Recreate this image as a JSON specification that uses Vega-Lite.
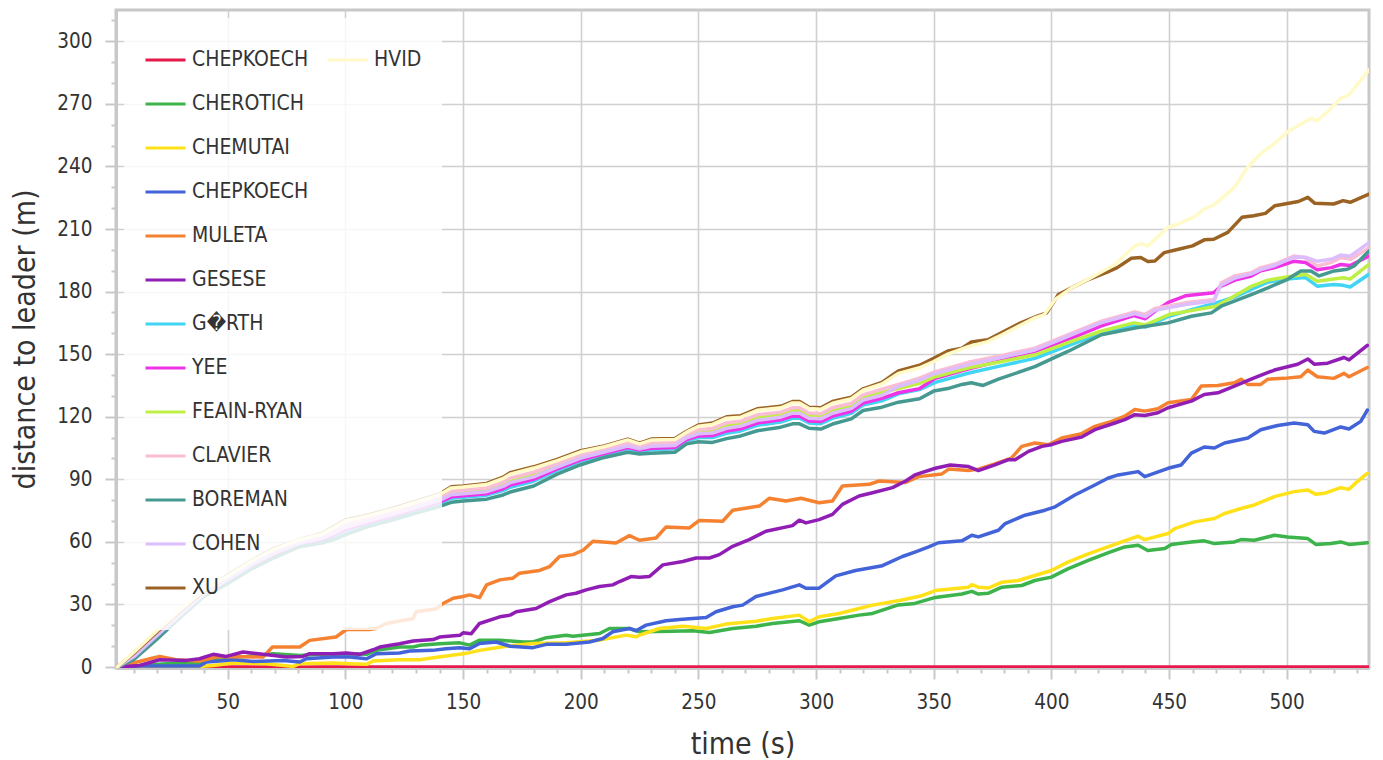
{
"$schema":"https://vega.github.io/schema/vega-lite/v6.json",
"width":1253,"height":658,
"autosize":{"type":"none"},
"padding":{"left":116,"top":10,"right":14,"bottom":92},
"background":"white",
"config":{
"view":{"stroke":"#c8c8c8","strokeWidth":3},
"axis":{"domainColor":"#c8c8c8","domainWidth":3,"tickColor":"#c8c8c8","tickWidth":2,"gridColor":"#d0d0d0","gridWidth":1.6,"labelFont":"DejaVu Sans Condensed, DejaVu Sans","labelFontSize":20.5,"labelColor":"#333333","titleFont":"DejaVu Sans Condensed, DejaVu Sans","titleFontSize":30,"titleFontWeight":"normal","titleColor":"#333333","labelPadding":13,"labelOverlap":false,"zindex":1}
},
"data":{"values":[
{"n":"CHEPKOECH","t":3,"d":0},{"n":"CHEPKOECH","t":100,"d":0},{"n":"CHEPKOECH","t":200,"d":0},{"n":"CHEPKOECH","t":300,"d":0},{"n":"CHEPKOECH","t":400,"d":0},{"n":"CHEPKOECH","t":500,"d":0},{"n":"CHEPKOECH","t":535,"d":0},
{"n":"CHEROTICH","t":3,"d":0},{"n":"CHEROTICH","t":12.6,"d":0.8},{"n":"CHEROTICH","t":24,"d":1.6},{"n":"CHEROTICH","t":32,"d":1.6},{"n":"CHEROTICH","t":38,"d":1.9},{"n":"CHEROTICH","t":43.8,"d":4},{"n":"CHEROTICH","t":52.3,"d":4.8},{"n":"CHEROTICH","t":58,"d":5.1},{"n":"CHEROTICH","t":69.3,"d":6.4},{"n":"CHEROTICH","t":80.6,"d":5.6},{"n":"CHEROTICH","t":89,"d":6.1},{"n":"CHEROTICH","t":100.4,"d":6.4},{"n":"CHEROTICH","t":109,"d":6.1},{"n":"CHEROTICH","t":113.2,"d":8},{"n":"CHEROTICH","t":123,"d":9.6},{"n":"CHEROTICH","t":128.8,"d":9.6},{"n":"CHEROTICH","t":131.6,"d":10.4},{"n":"CHEROTICH","t":140,"d":11.2},{"n":"CHEROTICH","t":148.6,"d":11.6},{"n":"CHEROTICH","t":152.8,"d":10.5},{"n":"CHEROTICH","t":157,"d":12.9},{"n":"CHEROTICH","t":165.6,"d":12.9},{"n":"CHEROTICH","t":175.5,"d":12},{"n":"CHEROTICH","t":179.7,"d":12},{"n":"CHEROTICH","t":185.4,"d":14.1},{"n":"CHEROTICH","t":193.8,"d":15.3},{"n":"CHEROTICH","t":196.7,"d":14.8},{"n":"CHEROTICH","t":208,"d":16.1},{"n":"CHEROTICH","t":212.2,"d":18.5},{"n":"CHEROTICH","t":220.7,"d":18.5},{"n":"CHEROTICH","t":225,"d":16.9},{"n":"CHEROTICH","t":239,"d":17.2},{"n":"CHEROTICH","t":247.6,"d":17.4},{"n":"CHEROTICH","t":254.7,"d":16.6},{"n":"CHEROTICH","t":264.6,"d":18.5},{"n":"CHEROTICH","t":274.5,"d":19.6},{"n":"CHEROTICH","t":281.5,"d":20.9},{"n":"CHEROTICH","t":292.9,"d":22.2},{"n":"CHEROTICH","t":297.1,"d":20.1},{"n":"CHEROTICH","t":301.3,"d":21.7},{"n":"CHEROTICH","t":309.8,"d":23.3},{"n":"CHEROTICH","t":318.3,"d":24.9},{"n":"CHEROTICH","t":324,"d":25.7},{"n":"CHEROTICH","t":335,"d":29.8},{"n":"CHEROTICH","t":342,"d":30.5},{"n":"CHEROTICH","t":350.7,"d":33.4},{"n":"CHEROTICH","t":362,"d":35},{"n":"CHEROTICH","t":366.2,"d":36.3},{"n":"CHEROTICH","t":369,"d":35},{"n":"CHEROTICH","t":373.3,"d":35.4},{"n":"CHEROTICH","t":379,"d":38.3},{"n":"CHEROTICH","t":387.4,"d":39.1},{"n":"CHEROTICH","t":393,"d":41.5},{"n":"CHEROTICH","t":400,"d":43.1},{"n":"CHEROTICH","t":407,"d":47.1},{"n":"CHEROTICH","t":415.7,"d":51.1},{"n":"CHEROTICH","t":424,"d":54.7},{"n":"CHEROTICH","t":431.2,"d":57.6},{"n":"CHEROTICH","t":436.9,"d":58.4},{"n":"CHEROTICH","t":441,"d":55.9},{"n":"CHEROTICH","t":448.2,"d":56.8},{"n":"CHEROTICH","t":451,"d":58.8},{"n":"CHEROTICH","t":459.5,"d":60},{"n":"CHEROTICH","t":465,"d":60.5},{"n":"CHEROTICH","t":469.3,"d":59.2},{"n":"CHEROTICH","t":477.8,"d":60},{"n":"CHEROTICH","t":480.6,"d":61.1},{"n":"CHEROTICH","t":486.3,"d":60.8},{"n":"CHEROTICH","t":494.8,"d":63.2},{"n":"CHEROTICH","t":500.4,"d":62.4},{"n":"CHEROTICH","t":509,"d":61.6},{"n":"CHEROTICH","t":512.4,"d":58.8},{"n":"CHEROTICH","t":518.8,"d":59.2},{"n":"CHEROTICH","t":523,"d":60},{"n":"CHEROTICH","t":526.5,"d":58.8},{"n":"CHEROTICH","t":534.3,"d":59.6},
{"n":"CHEMUTAI","t":3,"d":0},{"n":"CHEMUTAI","t":38,"d":0.3},{"n":"CHEMUTAI","t":43.8,"d":0.8},{"n":"CHEMUTAI","t":52.3,"d":1.9},{"n":"CHEMUTAI","t":66.4,"d":1.6},{"n":"CHEMUTAI","t":77.8,"d":0.3},{"n":"CHEMUTAI","t":80.6,"d":1.6},{"n":"CHEMUTAI","t":94.8,"d":1.9},{"n":"CHEMUTAI","t":101.8,"d":1.6},{"n":"CHEMUTAI","t":109,"d":1.3},{"n":"CHEMUTAI","t":111.8,"d":2.9},{"n":"CHEMUTAI","t":123,"d":3.5},{"n":"CHEMUTAI","t":131.6,"d":3.5},{"n":"CHEMUTAI","t":137.3,"d":4.5},{"n":"CHEMUTAI","t":148.6,"d":6.1},{"n":"CHEMUTAI","t":152.8,"d":6.9},{"n":"CHEMUTAI","t":157,"d":8},{"n":"CHEMUTAI","t":168.4,"d":10},{"n":"CHEMUTAI","t":179.7,"d":11.3},{"n":"CHEMUTAI","t":193.8,"d":11.6},{"n":"CHEMUTAI","t":208,"d":12.9},{"n":"CHEMUTAI","t":219.3,"d":15.3},{"n":"CHEMUTAI","t":223.5,"d":14.5},{"n":"CHEMUTAI","t":225,"d":15.3},{"n":"CHEMUTAI","t":233.5,"d":18.5},{"n":"CHEMUTAI","t":243.4,"d":19.6},{"n":"CHEMUTAI","t":253.3,"d":18.5},{"n":"CHEMUTAI","t":261.7,"d":20.6},{"n":"CHEMUTAI","t":274.5,"d":22},{"n":"CHEMUTAI","t":281.5,"d":23.3},{"n":"CHEMUTAI","t":292.9,"d":24.9},{"n":"CHEMUTAI","t":297.1,"d":21.7},{"n":"CHEMUTAI","t":301.3,"d":24.1},{"n":"CHEMUTAI","t":309.8,"d":25.7},{"n":"CHEMUTAI","t":318.3,"d":28.1},{"n":"CHEMUTAI","t":324,"d":29.7},{"n":"CHEMUTAI","t":336,"d":32},{"n":"CHEMUTAI","t":345,"d":34.2},{"n":"CHEMUTAI","t":350.7,"d":36.7},{"n":"CHEMUTAI","t":364.8,"d":38.3},{"n":"CHEMUTAI","t":366.2,"d":39.5},{"n":"CHEMUTAI","t":369,"d":38.3},{"n":"CHEMUTAI","t":373.3,"d":37.9},{"n":"CHEMUTAI","t":379,"d":40.7},{"n":"CHEMUTAI","t":386,"d":41.5},{"n":"CHEMUTAI","t":393,"d":43.9},{"n":"CHEMUTAI","t":400,"d":46.3},{"n":"CHEMUTAI","t":407,"d":50.3},{"n":"CHEMUTAI","t":415.7,"d":54.3},{"n":"CHEMUTAI","t":424,"d":57.6},{"n":"CHEMUTAI","t":432.6,"d":61.1},{"n":"CHEMUTAI","t":436.9,"d":62.7},{"n":"CHEMUTAI","t":439.7,"d":61.1},{"n":"CHEMUTAI","t":449.6,"d":64},{"n":"CHEMUTAI","t":452.4,"d":66.4},{"n":"CHEMUTAI","t":460.9,"d":69.6},{"n":"CHEMUTAI","t":469.3,"d":71.2},{"n":"CHEMUTAI","t":473.6,"d":73.6},{"n":"CHEMUTAI","t":480.6,"d":76},{"n":"CHEMUTAI","t":486.3,"d":77.7},{"n":"CHEMUTAI","t":494.8,"d":81.7},{"n":"CHEMUTAI","t":503.2,"d":84.1},{"n":"CHEMUTAI","t":509,"d":84.9},{"n":"CHEMUTAI","t":512.4,"d":82.8},{"n":"CHEMUTAI","t":516,"d":83.3},{"n":"CHEMUTAI","t":523,"d":86},{"n":"CHEMUTAI","t":526.5,"d":85.2},{"n":"CHEMUTAI","t":530,"d":88.9},{"n":"CHEMUTAI","t":534.3,"d":92.9},
{"n":"CHEPKOECH 2","t":3,"d":0},{"n":"CHEPKOECH 2","t":12.6,"d":0.5},{"n":"CHEPKOECH 2","t":24,"d":0.5},{"n":"CHEPKOECH 2","t":38,"d":0.5},{"n":"CHEPKOECH 2","t":41,"d":2.4},{"n":"CHEPKOECH 2","t":46.6,"d":2.9},{"n":"CHEPKOECH 2","t":52.3,"d":3.5},{"n":"CHEPKOECH 2","t":60.8,"d":2.7},{"n":"CHEPKOECH 2","t":73.5,"d":3.2},{"n":"CHEPKOECH 2","t":80.6,"d":2.4},{"n":"CHEPKOECH 2","t":83.4,"d":4},{"n":"CHEPKOECH 2","t":94.8,"d":4.8},{"n":"CHEPKOECH 2","t":101.8,"d":4.8},{"n":"CHEPKOECH 2","t":109,"d":4},{"n":"CHEPKOECH 2","t":113.2,"d":6.4},{"n":"CHEPKOECH 2","t":123,"d":6.7},{"n":"CHEPKOECH 2","t":127.3,"d":7.7},{"n":"CHEPKOECH 2","t":137,"d":8},{"n":"CHEPKOECH 2","t":142.7,"d":8.8},{"n":"CHEPKOECH 2","t":148.6,"d":9.3},{"n":"CHEPKOECH 2","t":152.8,"d":8.8},{"n":"CHEPKOECH 2","t":157,"d":11.3},{"n":"CHEPKOECH 2","t":164,"d":12},{"n":"CHEPKOECH 2","t":170,"d":10},{"n":"CHEPKOECH 2","t":179.7,"d":9.3},{"n":"CHEPKOECH 2","t":185.4,"d":10.9},{"n":"CHEPKOECH 2","t":193.8,"d":10.9},{"n":"CHEPKOECH 2","t":203.7,"d":12},{"n":"CHEPKOECH 2","t":209.4,"d":13.7},{"n":"CHEPKOECH 2","t":213.6,"d":16.9},{"n":"CHEPKOECH 2","t":220.7,"d":18.5},{"n":"CHEPKOECH 2","t":223.5,"d":17.4},{"n":"CHEPKOECH 2","t":227.8,"d":20.1},{"n":"CHEPKOECH 2","t":236.3,"d":22.2},{"n":"CHEPKOECH 2","t":242,"d":22.8},{"n":"CHEPKOECH 2","t":253.3,"d":23.8},{"n":"CHEPKOECH 2","t":257.5,"d":26.5},{"n":"CHEPKOECH 2","t":264.6,"d":28.9},{"n":"CHEPKOECH 2","t":268.8,"d":29.7},{"n":"CHEPKOECH 2","t":274.5,"d":33.8},{"n":"CHEPKOECH 2","t":285.8,"d":37},{"n":"CHEPKOECH 2","t":292.9,"d":39.4},{"n":"CHEPKOECH 2","t":295.7,"d":37.8},{"n":"CHEPKOECH 2","t":301.3,"d":37.8},{"n":"CHEPKOECH 2","t":308.4,"d":43.7},{"n":"CHEPKOECH 2","t":316.8,"d":46.3},{"n":"CHEPKOECH 2","t":328.2,"d":48.6},{"n":"CHEPKOECH 2","t":336.7,"d":53},{"n":"CHEPKOECH 2","t":342,"d":55.1},{"n":"CHEPKOECH 2","t":347.9,"d":57.6},{"n":"CHEPKOECH 2","t":352,"d":59.6},{"n":"CHEPKOECH 2","t":362,"d":60.5},{"n":"CHEPKOECH 2","t":366.2,"d":63.2},{"n":"CHEPKOECH 2","t":369,"d":62.4},{"n":"CHEPKOECH 2","t":377.5,"d":65.6},{"n":"CHEPKOECH 2","t":380.4,"d":68.8},{"n":"CHEPKOECH 2","t":388.8,"d":72.8},{"n":"CHEPKOECH 2","t":397.3,"d":75.2},{"n":"CHEPKOECH 2","t":401.6,"d":76.8},{"n":"CHEPKOECH 2","t":410,"d":82.5},{"n":"CHEPKOECH 2","t":418.5,"d":87.3},{"n":"CHEPKOECH 2","t":424,"d":90.5},{"n":"CHEPKOECH 2","t":428.4,"d":92.1},{"n":"CHEPKOECH 2","t":436.9,"d":93.7},{"n":"CHEPKOECH 2","t":439.7,"d":91.3},{"n":"CHEPKOECH 2","t":449.6,"d":95.3},{"n":"CHEPKOECH 2","t":455.2,"d":96.9},{"n":"CHEPKOECH 2","t":459.5,"d":102.6},{"n":"CHEPKOECH 2","t":465,"d":105.5},{"n":"CHEPKOECH 2","t":469.3,"d":105},{"n":"CHEPKOECH 2","t":473.6,"d":107.4},{"n":"CHEPKOECH 2","t":483.5,"d":109.8},{"n":"CHEPKOECH 2","t":489,"d":113.8},{"n":"CHEPKOECH 2","t":496.2,"d":115.8},{"n":"CHEPKOECH 2","t":503.2,"d":117},{"n":"CHEPKOECH 2","t":509,"d":116.2},{"n":"CHEPKOECH 2","t":511.7,"d":113},{"n":"CHEPKOECH 2","t":516,"d":112.2},{"n":"CHEPKOECH 2","t":523,"d":115.1},{"n":"CHEPKOECH 2","t":526.5,"d":114.1},{"n":"CHEPKOECH 2","t":531.5,"d":117.8},{"n":"CHEPKOECH 2","t":534.3,"d":123.2},
{"n":"MULETA","t":3,"d":0},{"n":"MULETA","t":17,"d":4},{"n":"MULETA","t":21,"d":5.1},{"n":"MULETA","t":28,"d":3.5},{"n":"MULETA","t":38,"d":2.9},{"n":"MULETA","t":45,"d":4.8},{"n":"MULETA","t":52,"d":5.1},{"n":"MULETA","t":65,"d":4.8},{"n":"MULETA","t":69,"d":9.6},{"n":"MULETA","t":78,"d":9.6},{"n":"MULETA","t":80.6,"d":9.6},{"n":"MULETA","t":84.8,"d":12.8},{"n":"MULETA","t":96,"d":14.4},{"n":"MULETA","t":100.4,"d":18},{"n":"MULETA","t":110,"d":18},{"n":"MULETA","t":113,"d":18.5},{"n":"MULETA","t":117.4,"d":20.9},{"n":"MULETA","t":128.8,"d":23.3},{"n":"MULETA","t":130,"d":26.5},{"n":"MULETA","t":138.7,"d":28},{"n":"MULETA","t":141.5,"d":30.5},{"n":"MULETA","t":145.8,"d":33},{"n":"MULETA","t":150,"d":33.8},{"n":"MULETA","t":152.8,"d":34.6},{"n":"MULETA","t":157,"d":33.3},{"n":"MULETA","t":160,"d":39.4},{"n":"MULETA","t":165.6,"d":41.8},{"n":"MULETA","t":171.2,"d":42.6},{"n":"MULETA","t":174,"d":45},{"n":"MULETA","t":182.5,"d":46.3},{"n":"MULETA","t":186.8,"d":48.2},{"n":"MULETA","t":191,"d":53},{"n":"MULETA","t":196.7,"d":53.9},{"n":"MULETA","t":201,"d":56},{"n":"MULETA","t":205.2,"d":60.3},{"n":"MULETA","t":215,"d":59.5},{"n":"MULETA","t":220.7,"d":63},{"n":"MULETA","t":225,"d":60.8},{"n":"MULETA","t":232,"d":61.9},{"n":"MULETA","t":236.3,"d":67.2},{"n":"MULETA","t":246.2,"d":66.7},{"n":"MULETA","t":250.4,"d":70.3},{"n":"MULETA","t":260.3,"d":69.9},{"n":"MULETA","t":264.6,"d":75.2},{"n":"MULETA","t":275.9,"d":77.2},{"n":"MULETA","t":280.1,"d":80.9},{"n":"MULETA","t":287.2,"d":79.6},{"n":"MULETA","t":293.6,"d":80.9},{"n":"MULETA","t":301.3,"d":78.8},{"n":"MULETA","t":307,"d":79.6},{"n":"MULETA","t":311.2,"d":86.8},{"n":"MULETA","t":322.6,"d":87.6},{"n":"MULETA","t":326.8,"d":89.2},{"n":"MULETA","t":338.1,"d":88.5},{"n":"MULETA","t":343.6,"d":91.3},{"n":"MULETA","t":353.5,"d":92.6},{"n":"MULETA","t":356.4,"d":94.9},{"n":"MULETA","t":364.8,"d":94.2},{"n":"MULETA","t":369,"d":94.9},{"n":"MULETA","t":376,"d":97.4},{"n":"MULETA","t":383,"d":100.2},{"n":"MULETA","t":387.4,"d":105.8},{"n":"MULETA","t":393,"d":107.4},{"n":"MULETA","t":398.7,"d":106.6},{"n":"MULETA","t":404.4,"d":109.8},{"n":"MULETA","t":412.9,"d":111.9},{"n":"MULETA","t":418.5,"d":115.4},{"n":"MULETA","t":425.6,"d":117.8},{"n":"MULETA","t":431.2,"d":120.3},{"n":"MULETA","t":435.5,"d":123.5},{"n":"MULETA","t":439.7,"d":122.7},{"n":"MULETA","t":445.3,"d":123.8},{"n":"MULETA","t":449.6,"d":126.7},{"n":"MULETA","t":459.5,"d":128.3},{"n":"MULETA","t":463.7,"d":134.7},{"n":"MULETA","t":470.8,"d":135},{"n":"MULETA","t":477.8,"d":136.3},{"n":"MULETA","t":480.6,"d":138},{"n":"MULETA","t":483.5,"d":135.5},{"n":"MULETA","t":489,"d":135.5},{"n":"MULETA","t":492,"d":138},{"n":"MULETA","t":499,"d":138.4},{"n":"MULETA","t":506,"d":139.2},{"n":"MULETA","t":509,"d":142.4},{"n":"MULETA","t":513,"d":139.2},{"n":"MULETA","t":520,"d":138.4},{"n":"MULETA","t":524.4,"d":140.8},{"n":"MULETA","t":526.5,"d":139.2},{"n":"MULETA","t":534.3,"d":143.6},
{"n":"GESESE","t":3,"d":0},{"n":"GESESE","t":12.6,"d":0.8},{"n":"GESESE","t":21,"d":3.5},{"n":"GESESE","t":32.4,"d":3.2},{"n":"GESESE","t":38,"d":4},{"n":"GESESE","t":43.8,"d":6.1},{"n":"GESESE","t":49.4,"d":5.1},{"n":"GESESE","t":56.5,"d":7.2},{"n":"GESESE","t":65,"d":6.1},{"n":"GESESE","t":75,"d":4.8},{"n":"GESESE","t":82,"d":5.1},{"n":"GESESE","t":84.8,"d":6.4},{"n":"GESESE","t":94.8,"d":6.4},{"n":"GESESE","t":100.4,"d":6.7},{"n":"GESESE","t":106,"d":6.1},{"n":"GESESE","t":111.8,"d":8.3},{"n":"GESESE","t":114.6,"d":9.6},{"n":"GESESE","t":123,"d":11.2},{"n":"GESESE","t":128.8,"d":12.5},{"n":"GESESE","t":137.3,"d":13.2},{"n":"GESESE","t":140,"d":14.4},{"n":"GESESE","t":148.6,"d":15.2},{"n":"GESESE","t":150,"d":16.4},{"n":"GESESE","t":153.5,"d":16},{"n":"GESESE","t":157,"d":20.9},{"n":"GESESE","t":165.6,"d":24.1},{"n":"GESESE","t":170,"d":24.9},{"n":"GESESE","t":172.6,"d":26.5},{"n":"GESESE","t":181,"d":28.1},{"n":"GESESE","t":186.8,"d":31.4},{"n":"GESESE","t":193.8,"d":34.6},{"n":"GESESE","t":198,"d":35.4},{"n":"GESESE","t":202.3,"d":37},{"n":"GESESE","t":208,"d":38.6},{"n":"GESESE","t":213.6,"d":39.4},{"n":"GESESE","t":216.5,"d":41},{"n":"GESESE","t":221.4,"d":43.4},{"n":"GESESE","t":225,"d":43.1},{"n":"GESESE","t":229.2,"d":43.4},{"n":"GESESE","t":234.9,"d":49},{"n":"GESESE","t":243.4,"d":50.6},{"n":"GESESE","t":249,"d":52.3},{"n":"GESESE","t":254.7,"d":52.3},{"n":"GESESE","t":258.9,"d":53.9},{"n":"GESESE","t":264.6,"d":57.9},{"n":"GESESE","t":271.6,"d":61.1},{"n":"GESESE","t":278.7,"d":65.1},{"n":"GESESE","t":290,"d":67.8},{"n":"GESESE","t":292.9,"d":70.4},{"n":"GESESE","t":295.7,"d":69.1},{"n":"GESESE","t":301.3,"d":70.7},{"n":"GESESE","t":307,"d":73.2},{"n":"GESESE","t":311.2,"d":78},{"n":"GESESE","t":318.3,"d":82},{"n":"GESESE","t":324,"d":83.6},{"n":"GESESE","t":332.5,"d":86},{"n":"GESESE","t":338.1,"d":89.2},{"n":"GESESE","t":342,"d":92.1},{"n":"GESESE","t":350.7,"d":95.3},{"n":"GESESE","t":357,"d":96.9},{"n":"GESESE","t":364.8,"d":96.1},{"n":"GESESE","t":369,"d":94.2},{"n":"GESESE","t":376,"d":96.9},{"n":"GESESE","t":381.8,"d":99.4},{"n":"GESESE","t":384.6,"d":99.4},{"n":"GESESE","t":390.3,"d":103.4},{"n":"GESESE","t":396,"d":105.8},{"n":"GESESE","t":400,"d":106.6},{"n":"GESESE","t":404.4,"d":108.2},{"n":"GESESE","t":412.9,"d":110.3},{"n":"GESESE","t":418.5,"d":113.8},{"n":"GESESE","t":427,"d":117},{"n":"GESESE","t":431.2,"d":118.6},{"n":"GESESE","t":435.5,"d":121},{"n":"GESESE","t":439.7,"d":120.6},{"n":"GESESE","t":445.3,"d":121.9},{"n":"GESESE","t":449.6,"d":124.3},{"n":"GESESE","t":459.5,"d":127.5},{"n":"GESESE","t":465,"d":130.7},{"n":"GESESE","t":470.8,"d":131.5},{"n":"GESESE","t":477.8,"d":134.7},{"n":"GESESE","t":484.9,"d":138},{"n":"GESESE","t":494.8,"d":142.4},{"n":"GESESE","t":504.7,"d":145.2},{"n":"GESESE","t":509,"d":147.7},{"n":"GESESE","t":511.7,"d":145.2},{"n":"GESESE","t":517.4,"d":145.7},{"n":"GESESE","t":524.4,"d":148.4},{"n":"GESESE","t":526.5,"d":147.3},{"n":"GESESE","t":534.3,"d":154.2},
{"n":"G\uFFFDRTH","t":3,"d":0},{"n":"G\uFFFDRTH","t":10,"d":4.3},{"n":"G\uFFFDRTH","t":20,"d":14.4},{"n":"G\uFFFDRTH","t":30,"d":24.8},{"n":"G\uFFFDRTH","t":40,"d":34.6},{"n":"G\uFFFDRTH","t":50,"d":41},{"n":"G\uFFFDRTH","t":60,"d":48},{"n":"G\uFFFDRTH","t":70,"d":53.6},{"n":"G\uFFFDRTH","t":80,"d":58.4},{"n":"G\uFFFDRTH","t":90,"d":60.6},{"n":"G\uFFFDRTH","t":96,"d":63.1},{"n":"G\uFFFDRTH","t":100,"d":65.3},{"n":"G\uFFFDRTH","t":110,"d":68.9},{"n":"G\uFFFDRTH","t":120,"d":71.9},{"n":"G\uFFFDRTH","t":130,"d":75.2},{"n":"G\uFFFDRTH","t":140,"d":78.5},{"n":"G\uFFFDRTH","t":145,"d":80.9},{"n":"G\uFFFDRTH","t":150,"d":81.4},{"n":"G\uFFFDRTH","t":160,"d":82.4},{"n":"G\uFFFDRTH","t":167,"d":84.6},{"n":"G\uFFFDRTH","t":170,"d":86.2},{"n":"G\uFFFDRTH","t":180,"d":89.1},{"n":"G\uFFFDRTH","t":190,"d":94.3},{"n":"G\uFFFDRTH","t":200,"d":98.7},{"n":"G\uFFFDRTH","t":210,"d":101.9},{"n":"G\uFFFDRTH","t":220,"d":104.6},{"n":"G\uFFFDRTH","t":225,"d":103.4},{"n":"G\uFFFDRTH","t":230,"d":104.2},{"n":"G\uFFFDRTH","t":240,"d":104.7},{"n":"G\uFFFDRTH","t":245,"d":108.5},{"n":"G\uFFFDRTH","t":250,"d":110},{"n":"G\uFFFDRTH","t":256,"d":110},{"n":"G\uFFFDRTH","t":262,"d":112.1},{"n":"G\uFFFDRTH","t":268,"d":113.2},{"n":"G\uFFFDRTH","t":275,"d":115.9},{"n":"G\uFFFDRTH","t":285,"d":117.5},{"n":"G\uFFFDRTH","t":290,"d":119.3},{"n":"G\uFFFDRTH","t":293,"d":119.3},{"n":"G\uFFFDRTH","t":297,"d":117},{"n":"G\uFFFDRTH","t":302,"d":116.7},{"n":"G\uFFFDRTH","t":307,"d":119.2},{"n":"G\uFFFDRTH","t":315,"d":121.6},{"n":"G\uFFFDRTH","t":320,"d":125.6},{"n":"G\uFFFDRTH","t":328,"d":127.6},{"n":"G\uFFFDRTH","t":335,"d":131},{"n":"G\uFFFDRTH","t":344,"d":133},{"n":"G\uFFFDRTH","t":350.7,"d":136.5},{"n":"G\uFFFDRTH","t":365,"d":141},{"n":"G\uFFFDRTH","t":379,"d":144.5},{"n":"G\uFFFDRTH","t":393,"d":148},{"n":"G\uFFFDRTH","t":407,"d":154},{"n":"G\uFFFDRTH","t":421,"d":160},{"n":"G\uFFFDRTH","t":435,"d":164},{"n":"G\uFFFDRTH","t":440,"d":163},{"n":"G\uFFFDRTH","t":450,"d":168.2},{"n":"G\uFFFDRTH","t":460,"d":171.5},{"n":"G\uFFFDRTH","t":470,"d":174.6},{"n":"G\uFFFDRTH","t":478,"d":177.5},{"n":"G\uFFFDRTH","t":485,"d":181},{"n":"G\uFFFDRTH","t":492,"d":184.5},{"n":"G\uFFFDRTH","t":500,"d":186},{"n":"G\uFFFDRTH","t":508,"d":186.7},{"n":"G\uFFFDRTH","t":513,"d":182.6},{"n":"G\uFFFDRTH","t":520,"d":183.4},{"n":"G\uFFFDRTH","t":524,"d":183},{"n":"G\uFFFDRTH","t":527,"d":182.2},{"n":"G\uFFFDRTH","t":535,"d":188.3},
{"n":"YEE","t":3,"d":0},{"n":"YEE","t":10,"d":4.6},{"n":"YEE","t":20,"d":14.7},{"n":"YEE","t":30,"d":25.1},{"n":"YEE","t":40,"d":34.9},{"n":"YEE","t":50,"d":41.4},{"n":"YEE","t":60,"d":48.4},{"n":"YEE","t":70,"d":54.1},{"n":"YEE","t":80,"d":58.7},{"n":"YEE","t":90,"d":61.1},{"n":"YEE","t":96,"d":63.8},{"n":"YEE","t":100,"d":66},{"n":"YEE","t":110,"d":69.4},{"n":"YEE","t":120,"d":72.4},{"n":"YEE","t":130,"d":75.8},{"n":"YEE","t":140,"d":79.1},{"n":"YEE","t":145,"d":81.6},{"n":"YEE","t":150,"d":82.1},{"n":"YEE","t":160,"d":83.1},{"n":"YEE","t":167,"d":85.5},{"n":"YEE","t":170,"d":87.2},{"n":"YEE","t":180,"d":90},{"n":"YEE","t":190,"d":95},{"n":"YEE","t":200,"d":99.3},{"n":"YEE","t":210,"d":102.4},{"n":"YEE","t":220,"d":105.2},{"n":"YEE","t":225,"d":104},{"n":"YEE","t":230,"d":104.9},{"n":"YEE","t":240,"d":105.3},{"n":"YEE","t":245,"d":109.1},{"n":"YEE","t":250,"d":110.8},{"n":"YEE","t":256,"d":111},{"n":"YEE","t":262,"d":113.2},{"n":"YEE","t":268,"d":114.2},{"n":"YEE","t":275,"d":117},{"n":"YEE","t":285,"d":118.5},{"n":"YEE","t":290,"d":120.3},{"n":"YEE","t":293,"d":120.3},{"n":"YEE","t":297,"d":118},{"n":"YEE","t":302,"d":117.7},{"n":"YEE","t":307,"d":120.3},{"n":"YEE","t":315,"d":122.6},{"n":"YEE","t":320,"d":126.6},{"n":"YEE","t":328,"d":128.8},{"n":"YEE","t":335,"d":131.5},{"n":"YEE","t":344,"d":133.5},{"n":"YEE","t":350.7,"d":138.4},{"n":"YEE","t":365,"d":143},{"n":"YEE","t":379,"d":147},{"n":"YEE","t":393,"d":150.5},{"n":"YEE","t":407,"d":157},{"n":"YEE","t":421,"d":163.5},{"n":"YEE","t":435,"d":168.5},{"n":"YEE","t":440,"d":167},{"n":"YEE","t":444,"d":170.5},{"n":"YEE","t":450,"d":175},{"n":"YEE","t":457,"d":178},{"n":"YEE","t":469,"d":179.4},{"n":"YEE","t":472,"d":182.5},{"n":"YEE","t":478,"d":185.5},{"n":"YEE","t":485,"d":187.5},{"n":"YEE","t":489,"d":190},{"n":"YEE","t":495,"d":191.5},{"n":"YEE","t":503,"d":194.5},{"n":"YEE","t":508,"d":194},{"n":"YEE","t":513,"d":190.5},{"n":"YEE","t":519,"d":191.5},{"n":"YEE","t":523,"d":193},{"n":"YEE","t":527,"d":192.5},{"n":"YEE","t":535,"d":197},
{"n":"FEAIN-RYAN","t":3,"d":0},{"n":"FEAIN-RYAN","t":10,"d":5.3},{"n":"FEAIN-RYAN","t":20,"d":15.6},{"n":"FEAIN-RYAN","t":30,"d":25.8},{"n":"FEAIN-RYAN","t":40,"d":35.5},{"n":"FEAIN-RYAN","t":50,"d":42.4},{"n":"FEAIN-RYAN","t":60,"d":49.4},{"n":"FEAIN-RYAN","t":70,"d":55.2},{"n":"FEAIN-RYAN","t":80,"d":59.6},{"n":"FEAIN-RYAN","t":90,"d":62.2},{"n":"FEAIN-RYAN","t":96,"d":65.4},{"n":"FEAIN-RYAN","t":100,"d":67.7},{"n":"FEAIN-RYAN","t":110,"d":70.8},{"n":"FEAIN-RYAN","t":120,"d":73.8},{"n":"FEAIN-RYAN","t":130,"d":77.2},{"n":"FEAIN-RYAN","t":140,"d":80.6},{"n":"FEAIN-RYAN","t":145,"d":83.4},{"n":"FEAIN-RYAN","t":150,"d":83.9},{"n":"FEAIN-RYAN","t":160,"d":85},{"n":"FEAIN-RYAN","t":167,"d":87.6},{"n":"FEAIN-RYAN","t":170,"d":89.5},{"n":"FEAIN-RYAN","t":180,"d":92.3},{"n":"FEAIN-RYAN","t":190,"d":96.7},{"n":"FEAIN-RYAN","t":200,"d":101},{"n":"FEAIN-RYAN","t":210,"d":103.8},{"n":"FEAIN-RYAN","t":220,"d":106.8},{"n":"FEAIN-RYAN","t":225,"d":105.3},{"n":"FEAIN-RYAN","t":230,"d":106.6},{"n":"FEAIN-RYAN","t":240,"d":107},{"n":"FEAIN-RYAN","t":245,"d":110.6},{"n":"FEAIN-RYAN","t":250,"d":112.8},{"n":"FEAIN-RYAN","t":256,"d":113.3},{"n":"FEAIN-RYAN","t":262,"d":115.8},{"n":"FEAIN-RYAN","t":268,"d":116.6},{"n":"FEAIN-RYAN","t":275,"d":119.6},{"n":"FEAIN-RYAN","t":285,"d":121},{"n":"FEAIN-RYAN","t":290,"d":123},{"n":"FEAIN-RYAN","t":293,"d":123},{"n":"FEAIN-RYAN","t":297,"d":120.6},{"n":"FEAIN-RYAN","t":302,"d":120.2},{"n":"FEAIN-RYAN","t":307,"d":123},{"n":"FEAIN-RYAN","t":315,"d":125.2},{"n":"FEAIN-RYAN","t":320,"d":129.2},{"n":"FEAIN-RYAN","t":328,"d":131.7},{"n":"FEAIN-RYAN","t":335,"d":133.5},{"n":"FEAIN-RYAN","t":344,"d":136},{"n":"FEAIN-RYAN","t":350.7,"d":139.2},{"n":"FEAIN-RYAN","t":365,"d":143.5},{"n":"FEAIN-RYAN","t":379,"d":146.5},{"n":"FEAIN-RYAN","t":393,"d":149.7},{"n":"FEAIN-RYAN","t":407,"d":155.5},{"n":"FEAIN-RYAN","t":421,"d":161},{"n":"FEAIN-RYAN","t":435,"d":165},{"n":"FEAIN-RYAN","t":440,"d":164},{"n":"FEAIN-RYAN","t":450,"d":169},{"n":"FEAIN-RYAN","t":460,"d":171},{"n":"FEAIN-RYAN","t":470,"d":173},{"n":"FEAIN-RYAN","t":478,"d":178},{"n":"FEAIN-RYAN","t":485,"d":182.5},{"n":"FEAIN-RYAN","t":492,"d":185.5},{"n":"FEAIN-RYAN","t":500,"d":187},{"n":"FEAIN-RYAN","t":508,"d":188.3},{"n":"FEAIN-RYAN","t":513,"d":185},{"n":"FEAIN-RYAN","t":520,"d":186},{"n":"FEAIN-RYAN","t":524,"d":186.6},{"n":"FEAIN-RYAN","t":527,"d":186},{"n":"FEAIN-RYAN","t":535,"d":193.1},
{"n":"CLAVIER","t":3,"d":0},{"n":"CLAVIER","t":10,"d":5.7},{"n":"CLAVIER","t":20,"d":16},{"n":"CLAVIER","t":30,"d":26.2},{"n":"CLAVIER","t":40,"d":35.8},{"n":"CLAVIER","t":50,"d":42.9},{"n":"CLAVIER","t":60,"d":49.9},{"n":"CLAVIER","t":70,"d":55.7},{"n":"CLAVIER","t":80,"d":60},{"n":"CLAVIER","t":90,"d":62.7},{"n":"CLAVIER","t":96,"d":66.2},{"n":"CLAVIER","t":100,"d":68.5},{"n":"CLAVIER","t":110,"d":71.5},{"n":"CLAVIER","t":120,"d":74.5},{"n":"CLAVIER","t":130,"d":77.9},{"n":"CLAVIER","t":140,"d":81.3},{"n":"CLAVIER","t":145,"d":84.3},{"n":"CLAVIER","t":150,"d":84.8},{"n":"CLAVIER","t":160,"d":85.9},{"n":"CLAVIER","t":167,"d":88.6},{"n":"CLAVIER","t":170,"d":90.6},{"n":"CLAVIER","t":180,"d":93.4},{"n":"CLAVIER","t":190,"d":97.5},{"n":"CLAVIER","t":200,"d":101.8},{"n":"CLAVIER","t":210,"d":104.5},{"n":"CLAVIER","t":220,"d":107.5},{"n":"CLAVIER","t":225,"d":105.9},{"n":"CLAVIER","t":230,"d":107.4},{"n":"CLAVIER","t":240,"d":107.8},{"n":"CLAVIER","t":245,"d":111.3},{"n":"CLAVIER","t":250,"d":113.8},{"n":"CLAVIER","t":256,"d":114.4},{"n":"CLAVIER","t":262,"d":117.1},{"n":"CLAVIER","t":268,"d":117.8},{"n":"CLAVIER","t":275,"d":120.9},{"n":"CLAVIER","t":285,"d":122.2},{"n":"CLAVIER","t":290,"d":124.3},{"n":"CLAVIER","t":293,"d":124.3},{"n":"CLAVIER","t":297,"d":121.8},{"n":"CLAVIER","t":302,"d":121.4},{"n":"CLAVIER","t":307,"d":124.3},{"n":"CLAVIER","t":315,"d":126.5},{"n":"CLAVIER","t":320,"d":130.5},{"n":"CLAVIER","t":328,"d":133.2},{"n":"CLAVIER","t":335,"d":135.5},{"n":"CLAVIER","t":344,"d":138.5},{"n":"CLAVIER","t":350.7,"d":141.6},{"n":"CLAVIER","t":364.8,"d":146.1},{"n":"CLAVIER","t":379,"d":149.4},{"n":"CLAVIER","t":393,"d":152.9},{"n":"CLAVIER","t":407,"d":159.3},{"n":"CLAVIER","t":421.3,"d":165.8},{"n":"CLAVIER","t":435.5,"d":170.3},{"n":"CLAVIER","t":439.7,"d":169},{"n":"CLAVIER","t":444,"d":171.9},{"n":"CLAVIER","t":456.7,"d":174.6},{"n":"CLAVIER","t":469.3,"d":176.2},{"n":"CLAVIER","t":472.2,"d":184.2},{"n":"CLAVIER","t":477.8,"d":187.5},{"n":"CLAVIER","t":485,"d":189.1},{"n":"CLAVIER","t":489,"d":191.5},{"n":"CLAVIER","t":494.8,"d":193.1},{"n":"CLAVIER","t":503.3,"d":197.1},{"n":"CLAVIER","t":507.6,"d":196.3},{"n":"CLAVIER","t":513,"d":192.3},{"n":"CLAVIER","t":518.8,"d":193.9},{"n":"CLAVIER","t":523,"d":196.3},{"n":"CLAVIER","t":527.3,"d":195.5},{"n":"CLAVIER","t":535,"d":201},
{"n":"BOREMAN","t":3,"d":0},{"n":"BOREMAN","t":10,"d":3.5},{"n":"BOREMAN","t":20,"d":13.5},{"n":"BOREMAN","t":30,"d":24},{"n":"BOREMAN","t":40,"d":34},{"n":"BOREMAN","t":50,"d":40},{"n":"BOREMAN","t":60,"d":47},{"n":"BOREMAN","t":70,"d":52.5},{"n":"BOREMAN","t":80,"d":57.5},{"n":"BOREMAN","t":90,"d":59.5},{"n":"BOREMAN","t":96,"d":61.5},{"n":"BOREMAN","t":100,"d":63.5},{"n":"BOREMAN","t":110,"d":67.5},{"n":"BOREMAN","t":120,"d":70.5},{"n":"BOREMAN","t":130,"d":73.8},{"n":"BOREMAN","t":140,"d":77},{"n":"BOREMAN","t":145,"d":79},{"n":"BOREMAN","t":150,"d":79.6},{"n":"BOREMAN","t":160,"d":80.5},{"n":"BOREMAN","t":167,"d":82.5},{"n":"BOREMAN","t":170,"d":83.9},{"n":"BOREMAN","t":180,"d":86.8},{"n":"BOREMAN","t":190,"d":92.5},{"n":"BOREMAN","t":200,"d":97},{"n":"BOREMAN","t":210,"d":100.5},{"n":"BOREMAN","t":220,"d":103},{"n":"BOREMAN","t":225,"d":102.1},{"n":"BOREMAN","t":230,"d":102.5},{"n":"BOREMAN","t":240,"d":103},{"n":"BOREMAN","t":245,"d":107},{"n":"BOREMAN","t":250,"d":108},{"n":"BOREMAN","t":256,"d":107.7},{"n":"BOREMAN","t":262,"d":109.5},{"n":"BOREMAN","t":268,"d":110.8},{"n":"BOREMAN","t":275,"d":113.3},{"n":"BOREMAN","t":285,"d":115},{"n":"BOREMAN","t":290,"d":116.6},{"n":"BOREMAN","t":293,"d":116.6},{"n":"BOREMAN","t":297,"d":114.5},{"n":"BOREMAN","t":302,"d":114.1},{"n":"BOREMAN","t":307,"d":116.5},{"n":"BOREMAN","t":315,"d":119},{"n":"BOREMAN","t":320,"d":123},{"n":"BOREMAN","t":328,"d":124.6},{"n":"BOREMAN","t":335,"d":127},{"n":"BOREMAN","t":344,"d":128.6},{"n":"BOREMAN","t":350,"d":132.3},{"n":"BOREMAN","t":356,"d":133.5},{"n":"BOREMAN","t":362,"d":135.5},{"n":"BOREMAN","t":366,"d":136.3},{"n":"BOREMAN","t":371,"d":135},{"n":"BOREMAN","t":377.5,"d":138},{"n":"BOREMAN","t":393,"d":144},{"n":"BOREMAN","t":407,"d":151.3},{"n":"BOREMAN","t":421.3,"d":159.3},{"n":"BOREMAN","t":435.5,"d":162.5},{"n":"BOREMAN","t":449.6,"d":165},{"n":"BOREMAN","t":459.5,"d":168.2},{"n":"BOREMAN","t":468,"d":169.8},{"n":"BOREMAN","t":472.2,"d":173},{"n":"BOREMAN","t":485,"d":178.6},{"n":"BOREMAN","t":492,"d":181.8},{"n":"BOREMAN","t":500.4,"d":185.9},{"n":"BOREMAN","t":506,"d":189.9},{"n":"BOREMAN","t":510.3,"d":189.9},{"n":"BOREMAN","t":513.8,"d":187.5},{"n":"BOREMAN","t":520.2,"d":189.9},{"n":"BOREMAN","t":525.8,"d":190.7},{"n":"BOREMAN","t":528.7,"d":192.3},{"n":"BOREMAN","t":535,"d":199.5},
{"n":"COHEN","t":3,"d":0},{"n":"COHEN","t":10,"d":4.9},{"n":"COHEN","t":20,"d":15.2},{"n":"COHEN","t":30,"d":25.4},{"n":"COHEN","t":40,"d":35.2},{"n":"COHEN","t":50,"d":41.9},{"n":"COHEN","t":60,"d":48.9},{"n":"COHEN","t":70,"d":54.7},{"n":"COHEN","t":80,"d":59.2},{"n":"COHEN","t":90,"d":61.7},{"n":"COHEN","t":96,"d":64.6},{"n":"COHEN","t":100,"d":66.9},{"n":"COHEN","t":110,"d":70.1},{"n":"COHEN","t":120,"d":73.1},{"n":"COHEN","t":130,"d":76.5},{"n":"COHEN","t":140,"d":79.9},{"n":"COHEN","t":145,"d":82.6},{"n":"COHEN","t":150,"d":83.1},{"n":"COHEN","t":160,"d":84.1},{"n":"COHEN","t":167,"d":86.6},{"n":"COHEN","t":170,"d":88.4},{"n":"COHEN","t":180,"d":91.2},{"n":"COHEN","t":190,"d":95.9},{"n":"COHEN","t":200,"d":100.2},{"n":"COHEN","t":210,"d":103.1},{"n":"COHEN","t":220,"d":106},{"n":"COHEN","t":225,"d":104.6},{"n":"COHEN","t":230,"d":105.8},{"n":"COHEN","t":240,"d":106.2},{"n":"COHEN","t":245,"d":109.9},{"n":"COHEN","t":250,"d":111.8},{"n":"COHEN","t":256,"d":112.2},{"n":"COHEN","t":262,"d":114.5},{"n":"COHEN","t":268,"d":115.5},{"n":"COHEN","t":275,"d":118.3},{"n":"COHEN","t":285,"d":119.8},{"n":"COHEN","t":290,"d":121.7},{"n":"COHEN","t":293,"d":121.7},{"n":"COHEN","t":297,"d":119.3},{"n":"COHEN","t":302,"d":119},{"n":"COHEN","t":307,"d":121.7},{"n":"COHEN","t":315,"d":124},{"n":"COHEN","t":320,"d":128},{"n":"COHEN","t":328,"d":130.3},{"n":"COHEN","t":335,"d":134.5},{"n":"COHEN","t":344,"d":137.5},{"n":"COHEN","t":350,"d":140.5},{"n":"COHEN","t":365,"d":145},{"n":"COHEN","t":379,"d":148.5},{"n":"COHEN","t":393,"d":152},{"n":"COHEN","t":407,"d":158.5},{"n":"COHEN","t":421,"d":165},{"n":"COHEN","t":435.5,"d":169.5},{"n":"COHEN","t":440,"d":168},{"n":"COHEN","t":444,"d":171},{"n":"COHEN","t":457,"d":173.8},{"n":"COHEN","t":469,"d":175.5},{"n":"COHEN","t":472,"d":183},{"n":"COHEN","t":478,"d":186.5},{"n":"COHEN","t":485,"d":188.5},{"n":"COHEN","t":489,"d":190.5},{"n":"COHEN","t":495,"d":192.5},{"n":"COHEN","t":503,"d":196.5},{"n":"COHEN","t":508,"d":196.5},{"n":"COHEN","t":513,"d":194.5},{"n":"COHEN","t":519,"d":195.5},{"n":"COHEN","t":523,"d":197.5},{"n":"COHEN","t":527,"d":197},{"n":"COHEN","t":535,"d":203.5},
{"n":"XU","t":3,"d":0},{"n":"XU","t":10,"d":6.5},{"n":"XU","t":20,"d":17},{"n":"XU","t":30,"d":27},{"n":"XU","t":40,"d":36.5},{"n":"XU","t":50,"d":44},{"n":"XU","t":60,"d":51},{"n":"XU","t":70,"d":57},{"n":"XU","t":80,"d":61},{"n":"XU","t":90,"d":64},{"n":"XU","t":96,"d":68},{"n":"XU","t":100,"d":70.5},{"n":"XU","t":110,"d":73},{"n":"XU","t":120,"d":76},{"n":"XU","t":130,"d":79.5},{"n":"XU","t":140,"d":83},{"n":"XU","t":145,"d":86.4},{"n":"XU","t":150,"d":86.8},{"n":"XU","t":160,"d":88},{"n":"XU","t":167,"d":91},{"n":"XU","t":170,"d":93.2},{"n":"XU","t":180,"d":96},{"n":"XU","t":190,"d":99.5},{"n":"XU","t":200,"d":103.7},{"n":"XU","t":210,"d":106},{"n":"XU","t":220,"d":109.3},{"n":"XU","t":225,"d":107.4},{"n":"XU","t":230,"d":109.3},{"n":"XU","t":240,"d":109.6},{"n":"XU","t":245,"d":113},{"n":"XU","t":250,"d":116},{"n":"XU","t":256,"d":117},{"n":"XU","t":262,"d":120},{"n":"XU","t":268,"d":120.5},{"n":"XU","t":275,"d":123.8},{"n":"XU","t":285,"d":125},{"n":"XU","t":290,"d":127.3},{"n":"XU","t":293,"d":127.3},{"n":"XU","t":297,"d":124.6},{"n":"XU","t":302,"d":124.3},{"n":"XU","t":307,"d":127.3},{"n":"XU","t":315,"d":129.4},{"n":"XU","t":320,"d":133.4},{"n":"XU","t":328,"d":136.5},{"n":"XU","t":335,"d":142},{"n":"XU","t":344,"d":144.7},{"n":"XU","t":350,"d":148},{"n":"XU","t":356,"d":151.5},{"n":"XU","t":362,"d":152.9},{"n":"XU","t":366,"d":155.8},{"n":"XU","t":373,"d":156.9},{"n":"XU","t":380,"d":161},{"n":"XU","t":387,"d":165},{"n":"XU","t":394,"d":168.2},{"n":"XU","t":398,"d":169.8},{"n":"XU","t":403,"d":178.6},{"n":"XU","t":410,"d":182.6},{"n":"XU","t":416,"d":185.9},{"n":"XU","t":424,"d":189.5},{"n":"XU","t":428,"d":191.5},{"n":"XU","t":434,"d":196},{"n":"XU","t":438,"d":196.3},{"n":"XU","t":441,"d":194.4},{"n":"XU","t":444,"d":194.7},{"n":"XU","t":448,"d":198.7},{"n":"XU","t":454,"d":200.3},{"n":"XU","t":460,"d":201.9},{"n":"XU","t":465,"d":204.8},{"n":"XU","t":469,"d":205.1},{"n":"XU","t":475,"d":208.4},{"n":"XU","t":481,"d":215.6},{"n":"XU","t":486,"d":216.4},{"n":"XU","t":491,"d":217.5},{"n":"XU","t":495,"d":221.2},{"n":"XU","t":505,"d":223.2},{"n":"XU","t":509,"d":225.2},{"n":"XU","t":512,"d":222.3},{"n":"XU","t":520,"d":222},{"n":"XU","t":524,"d":223.6},{"n":"XU","t":527,"d":222.8},{"n":"XU","t":535,"d":226.8},
{"n":"HVID","t":3,"d":0},{"n":"HVID","t":10,"d":7},{"n":"HVID","t":20,"d":17.5},{"n":"HVID","t":30,"d":27.5},{"n":"HVID","t":40,"d":37},{"n":"HVID","t":50,"d":43.7},{"n":"HVID","t":60,"d":50.7},{"n":"HVID","t":70,"d":56.7},{"n":"HVID","t":80,"d":60.8},{"n":"HVID","t":90,"d":63.7},{"n":"HVID","t":96,"d":67.5},{"n":"HVID","t":100,"d":70},{"n":"HVID","t":110,"d":72.6},{"n":"HVID","t":120,"d":75.6},{"n":"HVID","t":130,"d":79.1},{"n":"HVID","t":140,"d":82.6},{"n":"HVID","t":145,"d":85.9},{"n":"HVID","t":150,"d":86.3},{"n":"HVID","t":160,"d":87.5},{"n":"HVID","t":167,"d":90.4},{"n":"HVID","t":170,"d":92.5},{"n":"HVID","t":180,"d":95.4},{"n":"HVID","t":190,"d":99},{"n":"HVID","t":200,"d":103.2},{"n":"HVID","t":210,"d":105.6},{"n":"HVID","t":220,"d":108.9},{"n":"HVID","t":225,"d":107},{"n":"HVID","t":230,"d":108.8},{"n":"HVID","t":240,"d":109.1},{"n":"HVID","t":245,"d":112.6},{"n":"HVID","t":250,"d":115.4},{"n":"HVID","t":256,"d":116.3},{"n":"HVID","t":262,"d":119.3},{"n":"HVID","t":268,"d":119.8},{"n":"HVID","t":275,"d":123.1},{"n":"HVID","t":285,"d":124.3},{"n":"HVID","t":290,"d":126.6},{"n":"HVID","t":293,"d":126.6},{"n":"HVID","t":297,"d":123.9},{"n":"HVID","t":302,"d":123.6},{"n":"HVID","t":307,"d":126.5},{"n":"HVID","t":315,"d":128.7},{"n":"HVID","t":320,"d":132.7},{"n":"HVID","t":328,"d":135.7},{"n":"HVID","t":335,"d":140.8},{"n":"HVID","t":344,"d":143.5},{"n":"HVID","t":350,"d":146.5},{"n":"HVID","t":356,"d":150},{"n":"HVID","t":365,"d":153.7},{"n":"HVID","t":373,"d":156},{"n":"HVID","t":379,"d":159.3},{"n":"HVID","t":387,"d":164},{"n":"HVID","t":393,"d":167.4},{"n":"HVID","t":397,"d":169},{"n":"HVID","t":401.6,"d":176.2},{"n":"HVID","t":408.6,"d":181.8},{"n":"HVID","t":415.7,"d":185.9},{"n":"HVID","t":427,"d":193},{"n":"HVID","t":435.5,"d":201.9},{"n":"HVID","t":438.3,"d":203},{"n":"HVID","t":441,"d":201.9},{"n":"HVID","t":449.6,"d":210.8},{"n":"HVID","t":453.8,"d":212.4},{"n":"HVID","t":460.9,"d":215.9},{"n":"HVID","t":465,"d":219.6},{"n":"HVID","t":469.3,"d":221.7},{"n":"HVID","t":477.8,"d":230},{"n":"HVID","t":483.5,"d":239.7},{"n":"HVID","t":489,"d":246.1},{"n":"HVID","t":494.8,"d":251},{"n":"HVID","t":500.4,"d":256.6},{"n":"HVID","t":510.3,"d":263},{"n":"HVID","t":513,"d":261.9},{"n":"HVID","t":517.4,"d":266.2},{"n":"HVID","t":523,"d":272.7},{"n":"HVID","t":526.5,"d":274.3},{"n":"HVID","t":535,"d":286.3}
]},
"mark":{"type":"line","strokeWidth":3.5,"strokeJoin":"round","strokeCap":"round","clip":true},
"encoding":{
"x":{"field":"t","type":"quantitative","scale":{"domain":[2.5,535],"nice":false,"zero":false},
"axis":{"title":"time (s)","values":[10,20,30,40,50,60,70,80,90,100,110,120,130,140,150,160,170,180,190,200,210,220,230,240,250,260,270,280,290,300,310,320,330,340,350,360,370,380,390,400,410,420,430,440,450,460,470,480,490,500,510,520,530],
"labelExpr":"datum.value % 50 === 0 ? datum.label : ''",
"tickSize":{"condition":{"test":"datum.value % 50 === 0","value":11},"value":5},
"gridOpacity":{"condition":{"test":"datum.value % 50 === 0","value":1},"value":0},
"labelFlush":false,"titleX":626.5,"titleY":85,"titleBaseline":"alphabetic"}},
"y":{"field":"d","type":"quantitative","scale":{"domain":[-0.45,315],"nice":false,"zero":false},
"axis":{"title":"distance to leader (m)","values":[0,10,20,30,40,50,60,70,80,90,100,110,120,130,140,150,160,170,180,190,200,210,220,230,240,250,260,270,280,290,300,310],
"labelExpr":"datum.value % 30 === 0 ? datum.label : ''",
"tickSize":{"condition":{"test":"datum.value % 30 === 0","value":11},"value":5},
"gridOpacity":{"condition":{"test":"datum.value % 30 === 0","value":1},"value":0},
"titleX":-76,"titleY":329,"titleBaseline":"bottom"}},
"color":{"field":"n","type":"nominal",
"scale":{"domain":["CHEPKOECH","CHEROTICH","CHEMUTAI","CHEPKOECH 2","MULETA","GESESE","G\uFFFDRTH","YEE","FEAIN-RYAN","CLAVIER","BOREMAN","COHEN","XU","HVID","_1","_2","_3","_4","_5","_6","_7","_8","_9","_10","_11","_12"],
"range":["#e6194b","#3cb44b","#ffe119","#4363d8","#f58231","#911eb4","#42d4f4","#f032e6","#bfef45","#fabed4","#469990","#dcbeff","#9a6324","#fffac8","transparent","transparent","transparent","transparent","transparent","transparent","transparent","transparent","transparent","transparent","transparent","transparent"]},
"legend":{"orient":"top-left","offset":8,"padding":20,"fillColor":"rgba(255,255,255,0.82)","title":null,"columns":2,"columnPadding":17,"rowPadding":0,"clipHeight":44,"symbolType":"stroke","symbolSize":1600,"symbolStrokeWidth":3,"labelFont":"DejaVu Sans Condensed, DejaVu Sans","labelFontSize":21,"labelColor":"#333333","labelOffset":5,"labelLimit":300,
"labelExpr":"datum.label == 'CHEPKOECH 2' ? 'CHEPKOECH' : (indexof(datum.label, '_') == 0 ? '' : datum.label)"}}
}
}
